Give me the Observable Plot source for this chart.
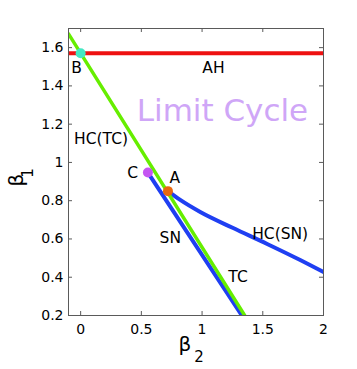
<!DOCTYPE html>
<html>
<head>
<meta charset="utf-8">
<script src="https://cdn.jsdelivr.net/npm/d3@7"></script>
<script src="https://cdn.jsdelivr.net/npm/@observablehq/plot@0.6"></script>
<style>
  html, body { margin: 0; padding: 0; background: white; }
  #chart svg { display: block; }
</style>
</head>
<body>
<div id="chart"></div>
<script>
// ---- data ----
const xTicks = [0, 0.5, 1, 1.5, 2];
const xTickLabels = ["0", "0.5", "1", "1.5", "2"];
const yTicks = [0.2, 0.4, 0.6, 0.8, 1, 1.2, 1.4, 1.6];
const yTickLabels = ["0.2", "0.4", "0.6", "0.8", "1", "1.2", "1.4", "1.6"];

// AH (red)
const ahBeta2 = [-0.1, 2];
const ahBeta1 = [1.571, 1.571];
// HC(TC) / TC (green)
const tcBeta2 = [-0.1, 1.351];
const tcBeta1 = [1.672, 0.2];
// SN (blue)
const snBeta2 = [0.554, 1.328];
const snBeta1 = [0.947, 0.2];
// HC(SN) (blue)
const hcsnBeta2 = [0.719, 0.820, 0.985, 1.256, 1.536, 1.808, 2.0];
const hcsnBeta1 = [0.850, 0.804, 0.741, 0.657, 0.574, 0.490, 0.427];

// special points
const pointNames = ["B", "C", "A"];
const pointBeta2 = [0, 0.554, 0.719];
const pointBeta1 = [1.571, 0.947, 0.850];
const pointColors = ["#44e8c4", "#c455f2", "#e8680f"];

// curve labels
const labelTexts = ["AH", "B", "HC(TC)", "C", "A", "SN", "HC(SN)", "TC"];
const labelBeta2 = [1.094, -0.034, 0.168, 0.429, 0.775, 0.738, 1.643, 1.296];
const labelBeta1 = [1.495, 1.494, 1.12, 0.942, 0.919, 0.603, 0.627, 0.402];

const regionText = ["Limit Cycle"];
const regionBeta2 = [1.168];
const regionBeta1 = [1.267];

// ---- build tables ----
const zip = (xs, ys) => xs.map((x, i) => ({x, y: ys[i]}));
const ah = zip(ahBeta2, ahBeta1);
const tc = zip(tcBeta2, tcBeta1);
const sn = zip(snBeta2, snBeta1);
const hcsn = zip(hcsnBeta2, hcsnBeta1);
const pts = pointNames.map((n, i) => ({n, x: pointBeta2[i], y: pointBeta1[i], c: pointColors[i]}));
const labels = labelTexts.map((t, i) => ({t, x: labelBeta2[i], y: labelBeta1[i]}));
const region = regionText.map((t, i) => ({t, x: regionBeta2[i], y: regionBeta1[i]}));

const FONT = "DejaVu Sans, Liberation Sans, Arial, sans-serif";
const axisColor = "#5a5a5a";
const W = 357, H = 369, ML = 68, MR = 34, MT = 28, MB = 54;
const frameW = W - ML - MR, frameH = H - MT - MB, TICK = 4;

const plot = Plot.plot({
  width: W,
  height: H,
  marginLeft: ML,
  marginRight: MR,
  marginTop: MT,
  marginBottom: MB,
  x: {domain: [-0.1, 2]},
  y: {domain: [0.2, 1.7]},
  style: {fontFamily: FONT, fontSize: "14px", color: "black", background: "white"},
  marks: [
    Plot.text(region, {x: "x", y: "y", text: "t", fill: "#cfa6f7", fontSize: 31, textAnchor: "middle", lineAnchor: "middle"}),
    Plot.line(sn, {x: "x", y: "y", stroke: "#1f3ff2", strokeWidth: 4, clip: true}),
    Plot.line(hcsn, {x: "x", y: "y", stroke: "#1f3ff2", strokeWidth: 4, curve: "monotone-x", clip: true}),
    Plot.line(tc, {x: "x", y: "y", stroke: "#66ee00", strokeWidth: 3.5, clip: true}),
    Plot.line(ah, {x: "x", y: "y", stroke: "#ee1111", strokeWidth: 4, clip: true}),
    Plot.dot(pts, {x: "x", y: "y", r: 5, fill: "c", stroke: "none"}),
    Plot.text(labels, {x: "x", y: "y", text: "t", fill: "black", fontSize: 15.5, textAnchor: "middle", lineAnchor: "middle"}),
    // inward tick marks (bottom, top, left, right)
    Plot.tickX(xTicks, {x: d => d, stroke: axisColor, insetTop: frameH - TICK}),
    Plot.tickX(xTicks, {x: d => d, stroke: axisColor, insetBottom: frameH - TICK}),
    Plot.tickY(yTicks, {y: d => d, stroke: axisColor, insetRight: frameW - TICK}),
    Plot.tickY(yTicks, {y: d => d, stroke: axisColor, insetLeft: frameW - TICK}),
    Plot.frame({stroke: axisColor}),
    Plot.axisX({ticks: xTicks, anchor: "bottom", tickSize: 0, tickPadding: 9, tickFormat: (d, i) => xTickLabels[i], label: null, fontSize: 14}),
    Plot.axisY({ticks: yTicks, anchor: "left", tickSize: 0, tickPadding: 5, tickFormat: (d, i) => yTickLabels[i], label: null, fontSize: 14})
  ]
});

document.getElementById("chart").appendChild(plot);

// axis titles with subscripts
const svg = d3.select(plot);
const xl = svg.append("text")
  .attr("x", 185).attr("y", 351)
  .attr("font-family", FONT).attr("font-size", 20).attr("fill", "black");
xl.append("tspan").text("β");
xl.append("tspan").attr("x", 199).attr("y", 362).attr("font-size", 15).text("2");

const yl = svg.append("g").attr("transform", "translate(23,180) rotate(-90)");
const ylt = yl.append("text")
  .attr("x", 0).attr("y", 0)
  .attr("font-family", FONT).attr("font-size", 20).attr("fill", "black");
ylt.append("tspan").text("β");
ylt.append("tspan").attr("x", 7).attr("y", 10).attr("font-size", 15).text("1");
</script>
</body>
</html>
